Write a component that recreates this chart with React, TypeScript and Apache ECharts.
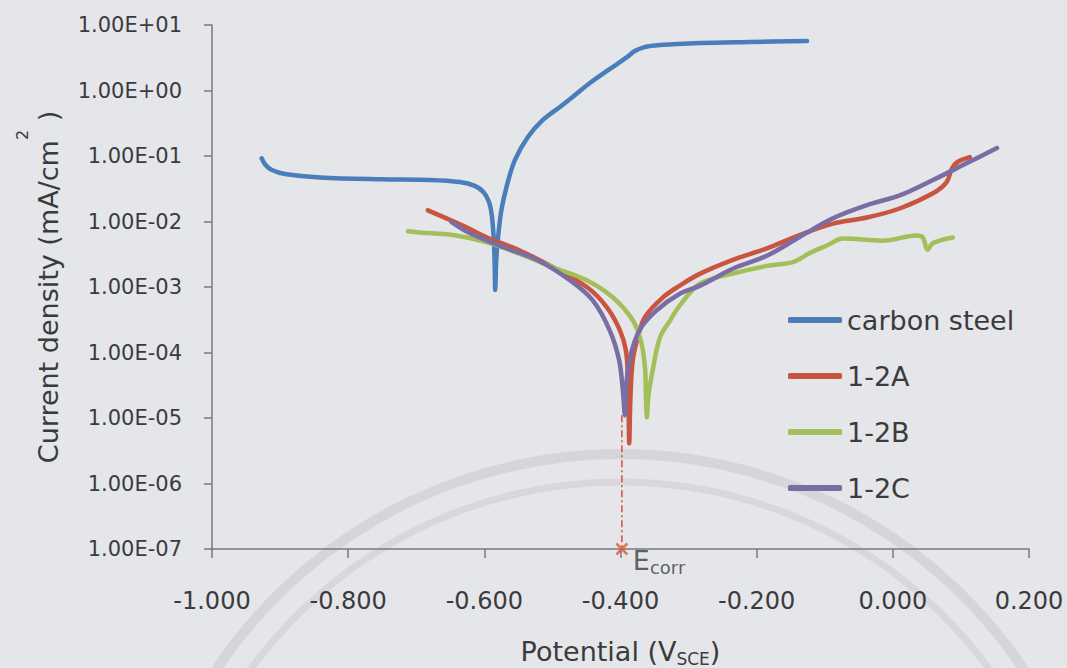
import React, { useEffect, useRef } from 'react';
import * as echarts from 'echarts';

// ---------- data ----------
const seriesNames = ['carbon steel', '1-2A', '1-2B', '1-2C'];
const xTicks = [-1.0, -0.8, -0.6, -0.4, -0.2, 0.0, 0.2];
const xTickLabels = ['-1.000', '-0.800', '-0.600', '-0.400', '-0.200', '0.000', '0.200'];
const yTickExponents = [-7, -6, -5, -4, -3, -2, -1, 0, 1];
const yTickLabels = ['1.00E-07', '1.00E-06', '1.00E-05', '1.00E-04', '1.00E-03', '1.00E-02', '1.00E-01', '1.00E+00', '1.00E+01'];

// [potential (V SCE), current density (mA/cm2)]
const carbonSteel: [number, number][] = [
  [-0.927, 9.2e-2], [-0.921, 7.2e-2], [-0.912, 6.1e-2], [-0.893, 5.3e-2], [-0.841, 4.7e-2],
  [-0.753, 4.4e-2], [-0.680, 4.3e-2], [-0.636, 4.0e-2], [-0.614, 3.5e-2], [-0.601, 2.8e-2],
  [-0.593, 1.96e-2], [-0.589, 1.25e-2], [-0.586, 5.1e-3], [-0.5848, 2.1e-3], [-0.5840, 9.0e-4],
  [-0.5825, 2.6e-3], [-0.5795, 6.2e-3], [-0.575, 1.48e-2], [-0.567, 3.5e-2], [-0.555, 8.7e-2],
  [-0.536, 0.195], [-0.514, 0.355], [-0.489, 0.56], [-0.467, 0.85], [-0.445, 1.3],
  [-0.416, 2.12], [-0.391, 3.2], [-0.379, 4.0], [-0.365, 4.6], [-0.342, 4.95],
  [-0.283, 5.3], [-0.210, 5.5], [-0.126, 5.7],
];

const sample12A: [number, number][] = [
  [-0.683, 1.48e-2], [-0.631, 8.6e-3], [-0.596, 5.7e-3], [-0.548, 3.6e-3], [-0.499, 2.0e-3],
  [-0.449, 9.9e-4], [-0.420, 4.9e-4], [-0.401, 2.2e-4], [-0.392, 1.07e-4], [-0.389, 3.7e-5],
  [-0.3880, 1.2e-5], [-0.3872, 4.1e-6], [-0.3855, 1.9e-5], [-0.382, 7.6e-5], [-0.374, 1.8e-4],
  [-0.364, 3.5e-4], [-0.338, 6.9e-4], [-0.313, 1.05e-3], [-0.283, 1.6e-3], [-0.235, 2.6e-3],
  [-0.185, 3.9e-3], [-0.137, 6.2e-3], [-0.088, 9.3e-3], [-0.038, 1.15e-2], [0.010, 1.58e-2],
  [0.059, 2.7e-2], [0.079, 4.0e-2], [0.087, 6.5e-2], [0.095, 8.1e-2], [0.113, 9.6e-2],
];

const sample12B: [number, number][] = [
  [-0.712, 7.1e-3], [-0.695, 6.8e-3], [-0.646, 6.2e-3], [-0.596, 4.8e-3], [-0.548, 3.2e-3],
  [-0.499, 2.0e-3], [-0.449, 1.26e-3], [-0.411, 6.9e-4], [-0.382, 3.1e-4], [-0.370, 1.5e-4],
  [-0.364, 5.9e-5], [-0.3627, 2.2e-5], [-0.3612, 1.02e-5], [-0.3590, 2.2e-5], [-0.352, 5.9e-5],
  [-0.342, 1.7e-4], [-0.327, 3.1e-4], [-0.313, 5.2e-4], [-0.283, 1.13e-3], [-0.235, 1.6e-3],
  [-0.185, 2.1e-3], [-0.147, 2.4e-3], [-0.122, 3.3e-3], [-0.097, 4.3e-3], [-0.073, 5.5e-3],
  [-0.015, 5.1e-3], [0.035, 6.1e-3], [0.044, 5.7e-3], [0.051, 3.7e-3], [0.059, 4.7e-3],
  [0.088, 5.7e-3],
];

const sample12C: [number, number][] = [
  [-0.648, 9.8e-3], [-0.621, 6.6e-3], [-0.573, 4.1e-3], [-0.523, 2.6e-3], [-0.474, 1.26e-3],
  [-0.441, 6.3e-4], [-0.416, 2.2e-4], [-0.402, 7.6e-5], [-0.3965, 2.6e-5], [-0.3935, 1.1e-5],
  [-0.3915, 3.2e-5], [-0.386, 8.4e-5], [-0.372, 2.2e-4], [-0.347, 4.4e-4], [-0.313, 7.9e-4],
  [-0.283, 1.05e-3], [-0.235, 1.9e-3], [-0.185, 3.0e-3], [-0.137, 5.8e-3], [-0.088, 1.12e-2],
  [-0.038, 1.78e-2], [0.010, 2.5e-2], [0.059, 4.3e-2], [0.109, 7.8e-2], [0.153, 0.132],
];

const ecorrPotential = -0.398;
const ecorrTopCurrent = 1.1e-5;
const ecorrBottomCurrent = 1e-7;

// ---------- styling ----------
const FONT = '"DejaVu Sans", Verdana, sans-serif';
const TEXT = '#3b3b3d';
const AXIS = '#78787c';
const colors = ['#4a7ebb', '#c9543f', '#a2bf5a', '#7a6da3'];

function xLabel(v: number): string {
  const i = xTicks.findIndex((t) => Math.abs(t - v) < 1e-6);
  return i >= 0 ? xTickLabels[i] : '';
}
function yLabel(v: number): string {
  const e = Math.round(Math.log10(v));
  const i = yTickExponents.indexOf(e);
  return i >= 0 ? yTickLabels[i] : '';
}

export default function App() {
  const ref = useRef<HTMLDivElement>(null);
  useEffect(() => {
    if (!ref.current) return;
    const chart = echarts.init(ref.current, undefined, { renderer: 'svg' });
    const datasets = [carbonSteel, sample12A, sample12B, sample12C];
    const option: any = {
      animation: false,
      backgroundColor: '#e5e6ea',
      grid: { left: 212, right: 38, top: 25, bottom: 119, containLabel: false, outerBoundsMode: 'none' },
      graphic: [
        {
          type: 'arc', silent: true, z: 0,
          shape: { cx: 620, cy: 940, r: 486, startAngle: Math.PI * 1.05, endAngle: Math.PI * 1.95 },
          style: { stroke: 'rgba(150,150,156,0.2)', lineWidth: 10, fill: 'none' },
        },
        {
          type: 'arc', silent: true, z: 0,
          shape: { cx: 620, cy: 940, r: 458, startAngle: Math.PI * 1.05, endAngle: Math.PI * 1.95 },
          style: { stroke: 'rgba(150,150,156,0.17)', lineWidth: 7, fill: 'none' },
        },
      ],
      legend: {
        orient: 'vertical',
        left: 783,
        top: 299,
        itemWidth: 54,
        itemHeight: 6,
        itemGap: 24,
        icon: 'roundRect',
        data: seriesNames,
        textStyle: { fontSize: 27, lineHeight: 32, color: TEXT, fontFamily: FONT },
      },
      xAxis: {
        type: 'value',
        min: -1,
        max: 0.2,
        interval: 0.2,
        axisLine: { show: true, onZero: false, lineStyle: { color: AXIS, width: 1.5 } },
        axisTick: { show: true, length: 9, lineStyle: { color: AXIS, width: 1.5 } },
        axisLabel: { margin: 40, fontSize: 24, color: TEXT, fontFamily: FONT, formatter: xLabel },
        splitLine: { show: false },
        name: 'Potential (V{sub|SCE})',
        nameLocation: 'middle',
        nameGap: 86,
        nameMoveOverlap: false,
        nameTextStyle: {
          fontSize: 27, lineHeight: 32, color: TEXT, fontFamily: FONT,
          rich: { sub: { fontSize: 17, lineHeight: 14, verticalAlign: 'bottom', color: TEXT, fontFamily: FONT } },
        },
      },
      yAxis: {
        type: 'log',
        logBase: 10,
        min: 1e-7,
        max: 10,
        splitNumber: 8,
        axisLine: { show: true, onZero: false, lineStyle: { color: AXIS, width: 1.5 } },
        axisTick: { show: true, length: 8, lineStyle: { color: AXIS, width: 1.5 } },
        minorTick: { show: false },
        axisLabel: { margin: 30, fontSize: 21, color: TEXT, fontFamily: FONT, formatter: yLabel },
        splitLine: { show: false },
        name: 'Current density (mA/cm{sup|2} )',
        nameLocation: 'middle',
        nameGap: 130,
        nameMoveOverlap: false,
        nameTextStyle: {
          fontSize: 27, lineHeight: 68, color: TEXT, fontFamily: FONT,
          rich: { sup: { fontSize: 16, lineHeight: 16, verticalAlign: 'top', color: TEXT, fontFamily: FONT } },
        },
      },
      series: [
        ...seriesNames.map((name, i) => ({
          name,
          type: 'line',
          data: datasets[i],
          showSymbol: false,
          smooth: 0.35,
          color: colors[i],
          lineStyle: { color: colors[i], width: 4.5, cap: 'round', join: 'round' },
          z: 3 + i,
        })),
        {
          name: 'Ecorr line',
          type: 'line',
          data: [[ecorrPotential, ecorrTopCurrent], [ecorrPotential, ecorrBottomCurrent]],
          showSymbol: false,
          silent: true,
          clip: false,
          lineStyle: { color: '#d9573f', width: 1.6, type: [7, 3, 2, 3] },
          z: 8,
        },
        {
          name: 'Ecorr',
          type: 'scatter',
          data: [[ecorrPotential, ecorrBottomCurrent]],
          symbol: 'path://M0,0L10,10M10,0L0,10',
          symbolSize: 11,
          clip: false,
          silent: true,
          itemStyle: { color: 'none', borderColor: '#e0583c', borderWidth: 2.5 },
          label: {
            show: true,
            position: [19, 3],
            formatter: 'E{s|corr}',
            fontSize: 27,
            lineHeight: 32,
            color: TEXT,
            fontFamily: FONT,
            rich: { s: { fontSize: 18, lineHeight: 14, verticalAlign: 'bottom', color: TEXT, fontFamily: FONT } },
          },
          z: 9,
        },
      ],
    };
    chart.setOption(option);
    return () => chart.dispose();
  }, []);
  return <div ref={ref} style={{ position: 'fixed', left: 0, top: 0, width: 1067, height: 668 }} />;
}
